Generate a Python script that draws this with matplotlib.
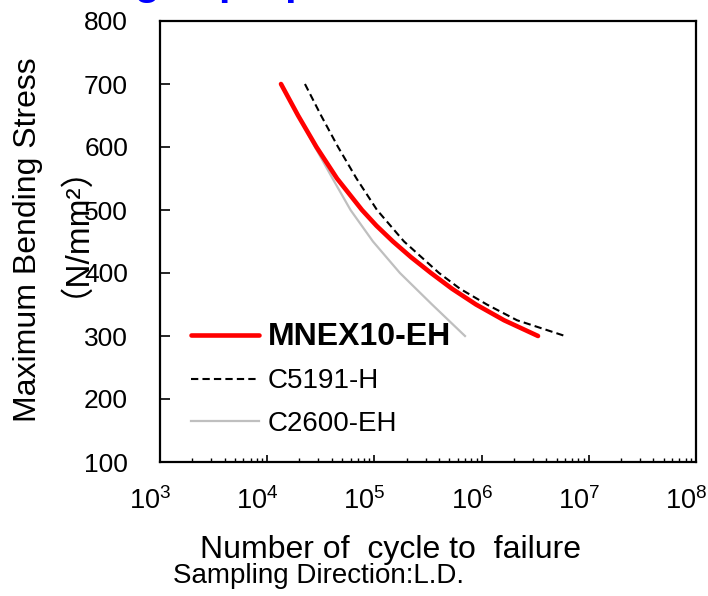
import matplotlib
matplotlib.use("Agg")
import matplotlib.pyplot as plt
from matplotlib.transforms import ScaledTranslation

# S-N data (cycles to failure, stress in N/mm2)
mnex_cycles = [1.345e4, 1.94e4, 2.88e4, 4.48e4, 7.66e4, 1.046e5, 1.49e5,
               2.2e5, 3.37e5, 5.3e5, 8.87e5, 1.62e6, 3.36e6]
mnex_stress = [700, 650, 600, 550, 500, 475, 450, 425, 400, 375, 350, 325, 300]

c5191_cycles = [2.25e4, 3.18e4, 4.58e4, 6.81e4, 1.058e5, 1.89e5, 4.01e5,
                6.29e5, 1.12e6, 2.14e6, 6.0e6]
c5191_stress = [700, 650, 600, 550, 500, 450, 400, 375, 350, 325, 300]

c2600_cycles = [1.345e4, 1.94e4, 2.79e4, 4.07e4, 5.99e4, 9.7e4, 1.73e5,
                3.45e5, 7.0e5]
c2600_stress = [700, 650, 600, 550, 500, 450, 400, 350, 300]

series_labels = ["MNEX10-EH", "C5191-H", "C2600-EH"]
y_ticks = [100, 200, 300, 400, 500, 600, 700, 800]

plt.rcParams["font.family"] = ["Liberation Sans", "DejaVu Sans"]
plt.rcParams["mathtext.fontset"] = "custom"
plt.rcParams["mathtext.rm"] = "Liberation Sans"

fig = plt.figure(figsize=(7.08, 5.96), dpi=100)
ax = fig.add_axes([160 / 708, 1 - 462 / 596, 536 / 708, 441 / 596])

ax.plot(mnex_cycles, mnex_stress, color="#FF0000", lw=3.3,
        solid_capstyle="round", solid_joinstyle="round",
        label=series_labels[0], zorder=3)
ax.plot(c5191_cycles, c5191_stress, color="black", lw=1.5,
        linestyle=(0, (3.5, 2)), label=series_labels[1], zorder=2)
ax.plot(c2600_cycles, c2600_stress, color="#BFBFBF", lw=1.6,
        solid_joinstyle="round", label=series_labels[2], zorder=1)

ax.set_xscale("log")
ax.set_xlim(1e3, 1e8)
ax.set_ylim(100, 800)
ax.set_yticks(y_ticks)

for side in ax.spines.values():
    side.set_linewidth(1.6)

ax.tick_params(axis="y", which="major", direction="in", length=7, width=1.2,
               labelsize=19, pad=23)
ax.tick_params(axis="x", which="major", direction="in", length=5, width=1.2,
               labelsize=19.5, pad=18)
ax.tick_params(axis="x", which="minor", direction="in", length=3, width=1.0)

# tick labels in the reference sit a little left of their ticks
shift = ScaledTranslation(-10 / 100, 0, fig.dpi_scale_trans)
for lab in ax.get_xticklabels():
    lab.set_transform(lab.get_transform() + shift)

leg = ax.legend(loc="upper left", bbox_to_anchor=(0.058, 0.318), frameon=False,
                fontsize=20, handlelength=2.45, handletextpad=0.3,
                labelspacing=0.6, borderpad=0, borderaxespad=0)
leg.get_texts()[0].set_fontweight("bold")
leg.get_texts()[0].set_fontsize(23)

fig.text(28 / 708, 1 - 240 / 596, "Maximum Bending Stress", rotation=90,
         ha="center", va="center", fontsize=23)
fig.text(58 / 708, 1 - 214 / 596, "（N/mm²）", rotation=90, ha="center",
         va="center", fontsize=24,
         family=["Liberation Sans", "Noto Sans CJK JP", "DejaVu Sans"])

fig.text(390 / 708, 1 - 558 / 596, "Number of  cycle to  failure",
         ha="center", va="baseline", fontsize=23)
fig.text(173 / 708, 1 - 583 / 596, "Sampling Direction:L.D.",
         ha="left", va="baseline", fontsize=20)

# clipped slide title above the chart, only its descenders show
fig.text(62 / 708, 1 + 5 / 596, "Fatigue properties", color="#0000FF",
         fontsize=29.5, fontweight="bold", ha="left", va="baseline")

fig.savefig("out.png", dpi=100)
